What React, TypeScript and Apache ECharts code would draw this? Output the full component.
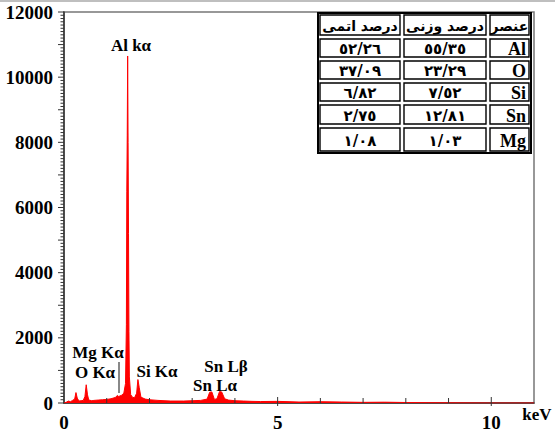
import React, { useEffect, useRef } from "react";
import * as echarts from "echarts";

// ---- Data ----
const spectrumKeV = [
  0.0, 0.05, 0.1, 0.15, 0.2, 0.25, 0.28, 0.31, 0.35, 0.4, 0.45, 0.49, 0.52, 0.55, 0.58,
  0.65, 0.7, 0.8, 0.9, 1.0, 1.1, 1.2, 1.25, 1.28, 1.35, 1.4, 1.44, 1.46, 1.47, 1.48,
  1.49, 1.5, 1.51, 1.52, 1.53, 1.56, 1.6, 1.65, 1.7, 1.73, 1.76, 1.8, 1.9, 2.0, 2.2,
  2.5, 2.8, 3.0, 3.2, 3.35, 3.41, 3.46, 3.52, 3.58, 3.64, 3.69, 3.76, 3.85, 4.0, 4.2,
  4.4, 4.6, 5.0, 5.5, 6.0, 6.5, 7.0, 7.5, 8.0, 8.5, 9.0, 10.0, 11.0,
];
const spectrumCounts = [
  0, 20, 60, 40, 80, 120, 320, 150, 60, 70, 80, 200, 560, 250, 90,
  70, 80, 90, 100, 110, 130, 170, 230, 200, 240, 300, 600, 2400, 6500, 8200,
  10650, 8000, 5200, 2200, 800, 260, 180, 160, 300, 720, 480, 180, 120, 100, 80,
  60, 60, 70, 80, 120, 330, 340, 110, 130, 350, 340, 130, 90, 70, 60,
  50, 45, 50, 30, 40, 30, 20, 25, 15, 10, 5, 0, 0,
];
const yTickLabels = [0, 2000, 4000, 6000, 8000, 10000, 12000];
const xTickLabels = [0, 5, 10];
const xMinorTicks = [1, 2, 3, 4, 5, 6, 7, 8, 9, 10];
const yMinorStep = 100;
const yMax = 12000;
const xMax = 11;
const xUnit = "keV";
const peakLabels = ["Al kα", "Mg Kα", "O Kα", "Si Kα", "Sn Lβ", "Sn Lα"];

const tableHeaders = ["درصد اتمی", "درصد وزنی", "عنصر"];
const elements = ["Al", "O", "Si", "Sn", "Mg"];
const weightPct = ["٥٥/٣٥", "٢٣/٢٩", "٧/٥٢", "١٢/٨١", "١/٠٣"];
const atomicPct = ["٥٢/٢٦", "٣٧/٠٩", "٦/٨٢", "٢/٧٥", "١/٠٨"];

// ---- Layout (pixels) ----
const peakLabelPos = [
  [131, 45],
  [98, 352],
  [95, 372],
  [157, 371],
  [226, 366],
  [215, 385],
];
const TABLE_X = [318, 402, 488, 531];
const TABLE_Y = [13, 37, 59, 81, 103, 126, 153];

const SERIF = '"Liberation Serif", "Times New Roman", serif';
const ARABIC = '"DejaVu Sans", sans-serif';

export default function App() {
  const ref = useRef<HTMLDivElement>(null);

  useEffect(() => {
    if (!ref.current) return;
    const chart = echarts.init(ref.current, undefined, { renderer: "svg" });

    const graphics: any[] = [];
    graphics.push({
      type: "line",
      shape: { x1: 0, y1: 1, x2: 555, y2: 1 },
      style: { stroke: "#aaa", lineWidth: 1.5 },
      silent: true,
    });

    peakLabels.forEach((t, i) => {
      graphics.push({
        type: "text",
        x: peakLabelPos[i][0],
        y: peakLabelPos[i][1],
        style: {
          text: t,
          font: `bold 17px ${SERIF}`,
          fill: "#000",
          textAlign: "center",
          textVerticalAlign: "middle",
        },
        z: 10,
      });
    });
    graphics.push({
      type: "line",
      shape: { x1: 119, y1: 362, x2: 119, y2: 393 },
      style: { stroke: "#888", lineWidth: 2 },
      z: 10,
    });
    graphics.push({
      type: "text",
      x: 537,
      y: 414,
      style: {
        text: xUnit,
        font: `bold 17px ${SERIF}`,
        fill: "#000",
        textAlign: "center",
        textVerticalAlign: "middle",
      },
    });

    const tx0 = TABLE_X[0];
    const ty0 = TABLE_Y[0];
    graphics.push({
      type: "rect",
      shape: {
        x: tx0,
        y: ty0,
        width: TABLE_X[3] - tx0,
        height: TABLE_Y[TABLE_Y.length - 1] - ty0,
      },
      style: { fill: "#fff", stroke: "#000", lineWidth: 2 },
      z: 20,
    });
    const rows: string[][] = [tableHeaders];
    elements.forEach((el, i) => rows.push([atomicPct[i], weightPct[i], el]));
    rows.forEach((row, r) => {
      row.forEach((cell, c) => {
        const x1 = TABLE_X[c];
        const x2 = TABLE_X[c + 1];
        const y1 = TABLE_Y[r];
        const y2 = TABLE_Y[r + 1];
        graphics.push({
          type: "rect",
          shape: { x: x1 + 2, y: y1 + 2, width: x2 - x1 - 4, height: y2 - y1 - 4 },
          style: { fill: "#fff", stroke: "#000", lineWidth: 1.4 },
          z: 21,
        });
        const isElement = r > 0 && c === 2;
        const isHeader = r === 0;
        graphics.push({
          type: "text",
          x: isElement ? x2 - 5 : (x1 + x2) / 2,
          y: (y1 + y2) / 2 + 1,
          style: {
            text: cell,
            font: isElement
              ? `bold 18px ${SERIF}`
              : isHeader
              ? `bold 14px ${ARABIC}`
              : `bold 15px ${ARABIC}`,
            fill: "#000",
            textAlign: isElement ? "right" : "center",
            textVerticalAlign: "middle",
          },
          z: 22,
        });
      });
    });

    const yTickValues: number[] = [];
    for (let v = 0; v <= yMax; v += yMinorStep) yTickValues.push(v);

    chart.setOption({
      animation: false,
      grid: {
        left: 64,
        right: 21,
        top: 12,
        bottom: 27,
        show: true,
        borderColor: "#777",
        borderWidth: 1.5,
        backgroundColor: "transparent",
      },
      xAxis: {
        type: "value",
        min: 0,
        max: xMax,
        interval: 5,
        position: "bottom",
        axisLine: { show: true, lineStyle: { color: "#333", width: 1.5 } },
        axisTick: { show: false },
        axisLabel: {
          show: true,
          showMaxLabel: false,
          margin: 10,
          color: "#000",
          fontFamily: SERIF,
          fontWeight: "bold",
          fontSize: 19,
          formatter: (v: number) => (xTickLabels.includes(v) ? String(v) : ""),
        },
        splitLine: { show: false },
      },
      yAxis: {
        type: "value",
        min: 0,
        max: yMax,
        interval: 1000,
        position: "left",
        axisLine: { show: true, lineStyle: { color: "#333", width: 1.5 } },
        axisTick: { show: false },
        axisLabel: {
          margin: 11,
          color: "#000",
          fontFamily: SERIF,
          fontWeight: "bold",
          fontSize: 19,
          formatter: (v: number) => (yTickLabels.includes(v) ? String(v) : ""),
        },
        splitLine: { show: false },
      },
      series: [
        {
          type: "line",
          data: spectrumKeV.map((k, i) => [k, spectrumCounts[i]]),
          symbol: "none",
          showSymbol: false,
          smooth: false,
          lineStyle: { color: "#ff0000", width: 1 },
          areaStyle: { color: "#ff0000", opacity: 1 },
          z: 2,
        },
        {
          type: "custom",
          silent: true,
          clip: false,
          z: 5,
          data: yTickValues.map((v) => [0, v]),
          renderItem: (_p: any, api: any) => {
            const v = api.value(1);
            const pt = api.coord([0, v]);
            const len = v % 1000 === 0 ? 6 : 3.5;
            return {
              type: "line",
              shape: { x1: pt[0] - len, y1: pt[1], x2: pt[0], y2: pt[1] },
              style: { stroke: "#333", lineWidth: 1 },
            };
          },
        },
        {
          type: "custom",
          silent: true,
          clip: false,
          z: 5,
          data: xMinorTicks.map((v) => [v, 0]),
          renderItem: (_p: any, api: any) => {
            const v = api.value(0);
            const pt = api.coord([v, 0]);
            const major = xTickLabels.includes(v);
            return {
              type: "line",
              shape: {
                x1: pt[0],
                y1: pt[1] + (major ? 3 : 0),
                x2: pt[0],
                y2: pt[1] - (major ? 6 : 5),
              },
              style: { stroke: "#333", lineWidth: 1 },
            };
          },
        },
      ],
      graphic: graphics,
    });

    return () => chart.dispose();
  }, []);

  return <div ref={ref} style={{ width: 555, height: 432, position: "absolute", left: 0, top: 0 }} />;
}
